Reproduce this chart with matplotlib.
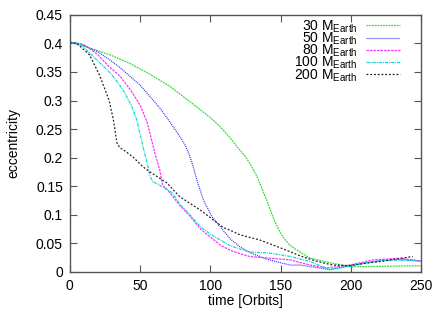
import numpy as np
import matplotlib
matplotlib.use("Agg")
import matplotlib.pyplot as plt

plt.rcParams['font.family'] = ['Liberation Sans', 'DejaVu Sans']
plt.rcParams['mathtext.fontset'] = 'custom'
plt.rcParams['mathtext.rm'] = 'Liberation Sans'
plt.rcParams['font.size'] = 10

# ---------------------------------------------------------------------------
# data (time in orbits, eccentricity)
# ---------------------------------------------------------------------------
t30 = [0, 14, 28.5, 42.7, 57, 71, 85.5, 100, 107, 114, 119, 124.6, 128, 133, 136,
       140, 145, 149, 152, 156, 161, 171, 187, 201, 225, 250]
e30 = [0.402, 0.392, 0.38, 0.365, 0.346, 0.325, 0.298, 0.27, 0.254, 0.235, 0.219,
       0.203, 0.19, 0.168, 0.15, 0.126, 0.093, 0.072, 0.06, 0.048, 0.039, 0.024,
       0.015, 0.009, 0.010, 0.011]

t50 = [0, 7, 20, 28.5, 36, 50, 57, 64, 71, 78, 82, 85.5, 88, 91, 95, 101, 107, 114,
       121, 128, 135, 142, 150, 157, 164, 172, 185, 199, 211, 221, 235, 250]
e50 = [0.402, 0.40, 0.385, 0.371, 0.357, 0.327, 0.307, 0.287, 0.263, 0.238, 0.222,
       0.202, 0.182, 0.156, 0.126, 0.097, 0.079, 0.058, 0.044, 0.034, 0.027, 0.021,
       0.016, 0.012, 0.012, 0.009, 0.004, 0.011, 0.016, 0.020, 0.022, 0.019]

t80 = [0, 10, 20, 28, 35.6, 43, 50, 55, 60.5, 64, 66, 70, 78, 85, 93, 100, 107, 114,
       121, 128, 142, 157, 171, 183, 199, 216, 235, 250]
e80 = [0.402, 0.398, 0.38, 0.359, 0.343, 0.319, 0.292, 0.262, 0.208, 0.178, 0.152,
       0.142, 0.117, 0.099, 0.075, 0.061, 0.047, 0.038, 0.032, 0.027, 0.024, 0.021,
       0.012, 0.007, 0.012, 0.021, 0.024, 0.019]

t100 = [0, 8, 23, 30, 38, 44, 47.6, 52, 56, 57, 59, 66, 73, 78, 85, 93, 100, 107,
        114, 121, 128, 142, 157, 171, 185, 199, 211, 228, 250]
e100 = [0.402, 0.398, 0.362, 0.345, 0.318, 0.29, 0.266, 0.22, 0.18, 0.168, 0.158,
        0.149, 0.138, 0.119, 0.101, 0.079, 0.066, 0.056, 0.046, 0.04, 0.035, 0.033,
        0.027, 0.018, 0.004, 0.010, 0.016, 0.021, 0.019]

t200 = [0, 5, 14, 21, 28, 31, 33.5, 35.6, 38, 45, 52, 57, 69, 78, 93, 100, 109, 114,
        121, 135, 150, 164, 175, 187, 199, 210, 223, 244]
e200 = [0.402, 0.40, 0.38, 0.345, 0.30, 0.266, 0.226, 0.217, 0.214, 0.201, 0.184,
        0.175, 0.156, 0.132, 0.108, 0.095, 0.078, 0.073, 0.065, 0.056, 0.042, 0.028,
        0.019, 0.012, 0.011, 0.015, 0.019, 0.027]

labels = [r'30 M$_{\mathrm{Earth}}$', r'50 M$_{\mathrm{Earth}}$', r'80 M$_{\mathrm{Earth}}$',
          r'100 M$_{\mathrm{Earth}}$', r'200 M$_{\mathrm{Earth}}$']

x_ticks = [0, 50, 100, 150, 200, 250]
y_ticks = [0, 0.05, 0.1, 0.15, 0.2, 0.25, 0.3, 0.35, 0.4, 0.45]
y_ticklabels = ['0', '0.05', '0.1', '0.15', '0.2', '0.25', '0.3', '0.35', '0.4', '0.45']

# ---------------------------------------------------------------------------
# plot
# ---------------------------------------------------------------------------
fig = plt.figure(figsize=(4.42, 3.09), dpi=100)
ax = fig.add_axes([0.158, 0.12, 0.795, 0.832])

styles = [
    dict(color='#33dd33', dashes=(1.5, 0.7)),
    dict(color='#3333ee', dashes=(0.8, 0.8)),
    dict(color='#ff33ff', dashes=(2, 0.8)),
    dict(color='#00dddd', dashes=(2.5, 0.8, 0.8, 0.8)),
    dict(color='#222222', dashes=(1.5, 1.5)),
]
series = [(t30, e30), (t50, e50), (t80, e80), (t100, e100), (t200, e200)]

for (t, e), st, lab in zip(series, styles, labels):
    ax.plot(t, e, lw=0.9, label=lab, **st)

ax.set_xlim(0, 250)
ax.set_ylim(0, 0.45)
ax.set_xticks(x_ticks)
ax.set_yticks(y_ticks)
ax.set_yticklabels(y_ticklabels)
ax.tick_params(direction='in', top=True, right=True, length=5, width=0.8,
               color='#555555', labelsize=10, pad=5)
for sp in ax.spines.values():
    sp.set_color('#555555')
    sp.set_linewidth(1.0)

ax.set_xlabel('time [Orbits]', fontsize=10, labelpad=1)
ax.set_ylabel('eccentricity', fontsize=10, labelpad=11)

ax.legend(loc='upper right', frameon=False, markerfirst=False, handlelength=2.45,
          handletextpad=0.6, labelspacing=-0.3, borderaxespad=0.4, fontsize=10,
          bbox_to_anchor=(0.97, 1.03))

fig.savefig('out.png', dpi=100)
